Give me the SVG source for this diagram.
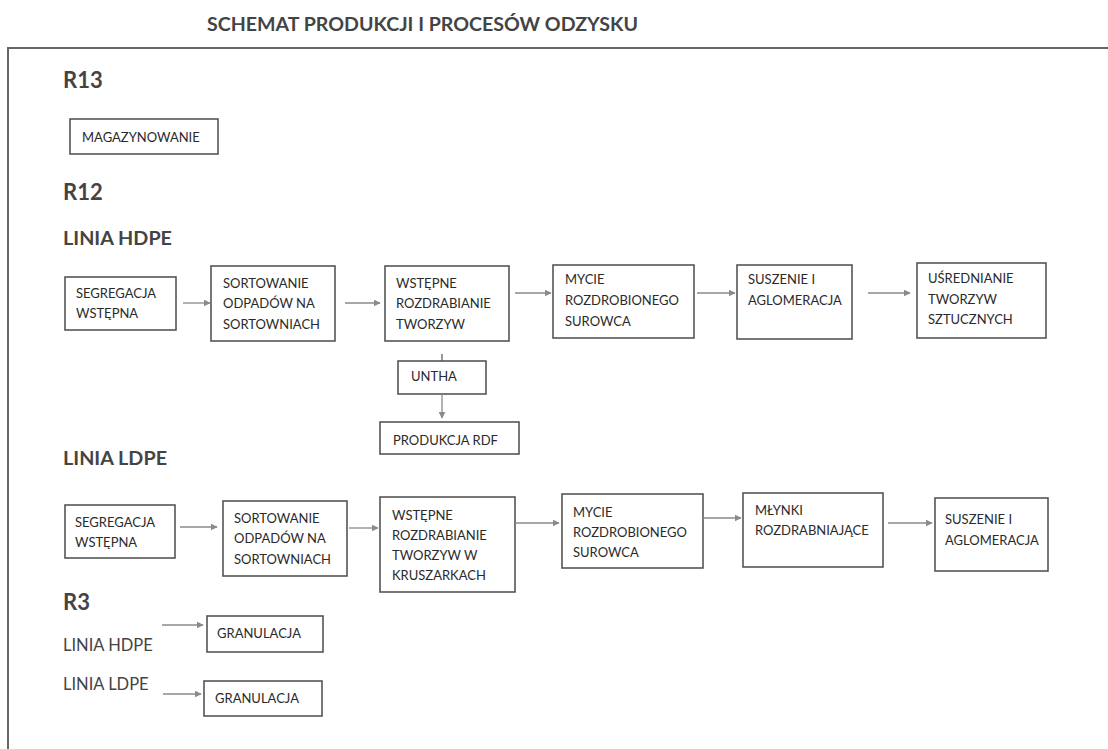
<svg xmlns="http://www.w3.org/2000/svg" width="1108" height="749" viewBox="0 0 1108 749">
<defs>
<marker id="ah" viewBox="0 0 10 10" refX="9" refY="5" markerWidth="7" markerHeight="7" markerUnits="userSpaceOnUse" orient="auto">
<path d="M0,0 L10,5 L0,10 z" fill="#8a8a8a"/>
</marker>
<style>
.t{font-family:Lato,'Liberation Sans',sans-serif;fill:#2a2a2a;font-size:13px}
.h{font-family:Lato,'Liberation Sans',sans-serif;fill:#444;font-weight:bold}
.r{font-family:Lato,'Liberation Sans',sans-serif;fill:#444}
.b{fill:#fff;stroke:#555;stroke-width:1.6}
.c{stroke:#8a8a8a;stroke-width:1.3;fill:none;marker-end:url(#ah)}
.f{stroke:#666;stroke-width:2;fill:none}
</style>
</defs>
<rect width="1108" height="749" fill="#fff"/>
<text class="h" x="207" y="31" font-size="18" textLength="431" lengthAdjust="spacingAndGlyphs">SCHEMAT PRODUKCJI I PROCESÓW ODZYSKU</text>
<g id="frame"><path class="f" d="M1108,48 H8 V749"/></g>
<text class="h" x="63" y="88" font-size="22">R13</text>
<text class="h" x="63" y="200" font-size="22">R12</text>
<text class="h" x="63" y="245" font-size="18.5" textLength="109" lengthAdjust="spacingAndGlyphs">LINIA HDPE</text>
<text class="h" x="63" y="465" font-size="18.5" textLength="104" lengthAdjust="spacingAndGlyphs">LINIA LDPE</text>
<text class="h" x="63" y="610" font-size="22">R3</text>
<text class="r" x="63" y="651" font-size="16.5">LINIA HDPE</text>
<text class="r" x="63" y="690" font-size="16.5">LINIA LDPE</text>

<g id="magazynowanie"><rect class="b" x="70" y="119" width="148" height="35"/><text class="t" x="82" y="142">MAGAZYNOWANIE</text></g>

<g id="h-segregacja"><rect class="b" x="65" y="277" width="111" height="53"/><text class="t" x="76" y="298">SEGREGACJA</text><text class="t" x="76" y="318">WSTĘPNA</text></g>
<g id="h-sortowanie"><rect class="b" x="211" y="266" width="124" height="75"/><text class="t" x="223" y="288">SORTOWANIE</text><text class="t" x="223" y="308">ODPADÓW NA</text><text class="t" x="223" y="329">SORTOWNIACH</text></g>
<g id="h-wstepne"><rect class="b" x="385" y="266" width="124" height="75"/><text class="t" x="396" y="288">WSTĘPNE</text><text class="t" x="396" y="308">ROZDRABIANIE</text><text class="t" x="396" y="329">TWORZYW</text></g>
<g id="h-mycie"><rect class="b" x="553" y="265" width="141" height="73"/><text class="t" x="565" y="284">MYCIE</text><text class="t" x="565" y="305">ROZDROBIONEGO</text><text class="t" x="565" y="326">SUROWCA</text></g>
<g id="h-suszenie"><rect class="b" x="737" y="265" width="115" height="74"/><text class="t" x="748" y="284">SUSZENIE I</text><text class="t" x="748" y="305">AGLOMERACJA</text></g>
<g id="h-usrednianie"><rect class="b" x="917" y="263" width="129" height="75"/><text class="t" x="928" y="283">UŚREDNIANIE</text><text class="t" x="928" y="304">TWORZYW</text><text class="t" x="928" y="324">SZTUCZNYCH</text></g>
<g id="untha"><rect class="b" x="398" y="361" width="88" height="33"/><text class="t" x="411" y="381">UNTHA</text></g>
<g id="rdf"><rect class="b" x="380" y="422" width="139" height="32"/><text class="t" x="393" y="445">PRODUKCJA RDF</text></g>

<g id="l-segregacja"><rect class="b" x="65" y="505" width="110" height="53"/><text class="t" x="75" y="527">SEGREGACJA</text><text class="t" x="75" y="547">WSTĘPNA</text></g>
<g id="l-sortowanie"><rect class="b" x="223" y="501" width="124" height="75"/><text class="t" x="234" y="523">SORTOWANIE</text><text class="t" x="234" y="543">ODPADÓW NA</text><text class="t" x="234" y="564">SORTOWNIACH</text></g>
<g id="l-wstepne"><rect class="b" x="380" y="497" width="135" height="95"/><text class="t" x="392" y="520">WSTĘPNE</text><text class="t" x="392" y="540">ROZDRABIANIE</text><text class="t" x="392" y="560">TWORZYW W</text><text class="t" x="392" y="580">KRUSZARKACH</text></g>
<g id="l-mycie"><rect class="b" x="562" y="494" width="141" height="74"/><text class="t" x="573" y="517">MYCIE</text><text class="t" x="573" y="537">ROZDROBIONEGO</text><text class="t" x="573" y="557">SUROWCA</text></g>
<g id="l-mlynki"><rect class="b" x="743" y="493" width="140" height="74"/><text class="t" x="755" y="515">MŁYNKI</text><text class="t" x="755" y="535">ROZDRABNIAJĄCE</text></g>
<g id="l-suszenie"><rect class="b" x="935" y="498" width="113" height="73"/><text class="t" x="945" y="524">SUSZENIE I</text><text class="t" x="945" y="545">AGLOMERACJA</text></g>

<g id="r3-granulacja-hdpe"><rect class="b" x="207" y="616" width="116" height="36"/><text class="t" x="217" y="638">GRANULACJA</text></g>
<g id="r3-granulacja-ldpe"><rect class="b" x="204" y="681" width="118" height="35"/><text class="t" x="215" y="703">GRANULACJA</text></g>

<g id="connectors">
<line class="c" x1="183" y1="303" x2="210" y2="303"/>
<line class="c" x1="345" y1="303" x2="380" y2="303"/>
<line class="c" x1="515" y1="293" x2="551" y2="293"/>
<line class="c" x1="697" y1="293" x2="735" y2="293"/>
<line class="c" x1="868" y1="293" x2="910" y2="293"/>
<line stroke="#555" stroke-width="1.2" x1="442" y1="354" x2="442" y2="361"/>
<line class="c" x1="442" y1="394" x2="442" y2="418"/>
<line class="c" x1="180" y1="527" x2="217" y2="527"/>
<line class="c" x1="349" y1="528" x2="378" y2="528"/>
<line class="c" x1="515" y1="523" x2="559" y2="523"/>
<line class="c" x1="703" y1="518" x2="741" y2="518"/>
<line class="c" x1="888" y1="523" x2="932" y2="523"/>
<line class="c" x1="162" y1="625" x2="203" y2="625"/>
<line class="c" x1="163" y1="694" x2="201" y2="694"/>
</g>
</svg>
